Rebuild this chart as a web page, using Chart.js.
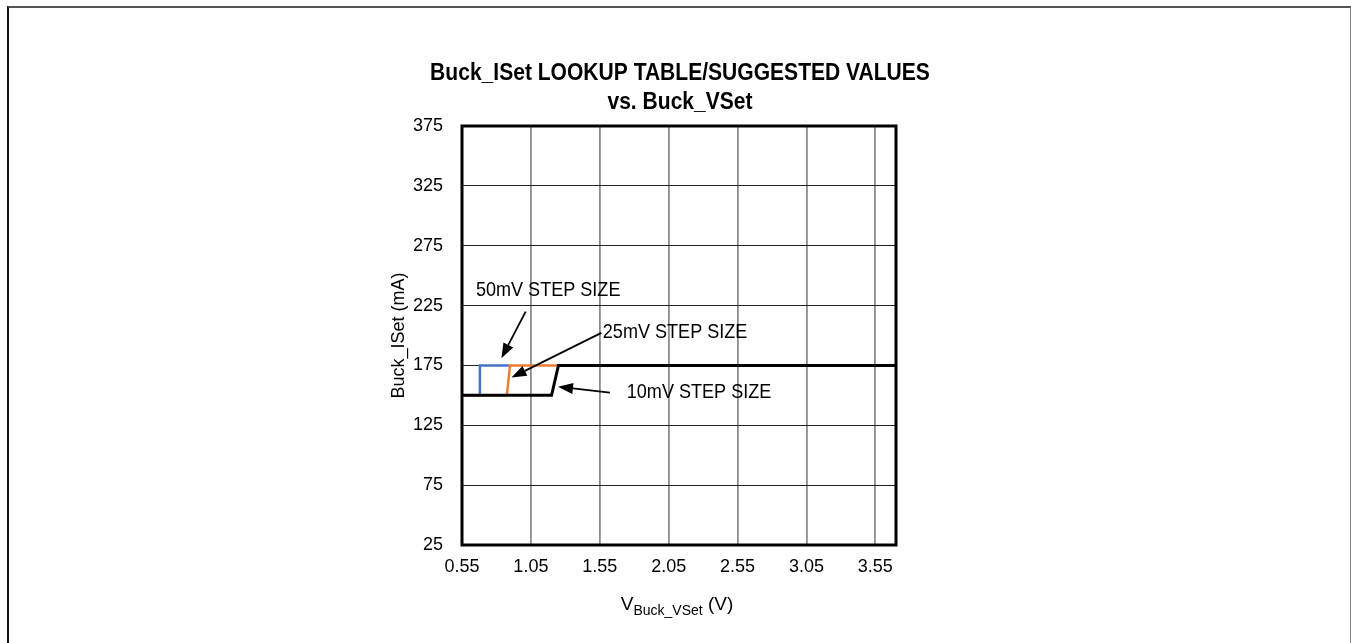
<!DOCTYPE html>
<html>
<head>
<meta charset="utf-8">
<script src="https://cdn.jsdelivr.net/npm/chart.js@4.4.1/dist/chart.umd.min.js"></script>
<style>
  html, body { margin: 0; padding: 0; background: #fff; }
  #frame {
    position: absolute; left: 7px; top: 6px; width: 1341px; height: 660px;
    border-left: 2px solid #111; border-top: 2px solid #555; border-right: 2px solid #888;
  }
  #wrap { position: absolute; left: 0; top: 0; width: 1351px; height: 643px; }
</style>
</head>
<body>
<div id="frame"></div>
<div id="wrap"><canvas id="chart" width="1351" height="643"></canvas></div>
<script>
// axis ticks
const xTicks = [0.55, 1.05, 1.55, 2.05, 2.55, 3.05, 3.55];
const yTicks = [25, 75, 125, 175, 225, 275, 325, 375];

// series (Buck_VSet V, Buck_ISet mA)
const step10mV = [{ x: 0.55, y: 150 }, { x: 1.2, y: 150 }, { x: 1.25, y: 175 }, { x: 3.7, y: 175 }];
const step25mV = [{ x: 0.55, y: 150 }, { x: 0.876, y: 150 }, { x: 0.898, y: 175 }, { x: 2.13, y: 175 }];
const step50mV = [{ x: 0.55, y: 150 }, { x: 0.68, y: 150 }, { x: 0.68, y: 175 }, { x: 0.89, y: 175 }];

const seriesNames = ["10mV STEP SIZE", "25mV STEP SIZE", "50mV STEP SIZE"];

// callouts: text anchor + arrow tail/tip, in data units
const callouts = [
  { text: "50mV STEP SIZE", tx: 0.651, ty: 238, from: [1.012, 219.9], to: [0.836, 181.0] },
  { text: "25mV STEP SIZE", tx: 1.572, ty: 202.5, from: [1.561, 202.2], to: [0.909, 164.9] },
  { text: "10mV STEP SIZE", tx: 1.746, ty: 152.4, from: [1.623, 152.2], to: [1.247, 157.2] }
];

const REG = '"Liberation Sans", Arial, sans-serif';

// no narrow font installed, so squeeze text horizontally
function squeezed(ctx, text, x, y, sx, align) {
  ctx.save();
  ctx.translate(x, y);
  ctx.scale(sx, 1);
  ctx.textAlign = align;
  ctx.fillText(text, 0, 0);
  ctx.restore();
}

const extras = {
  id: "extras",
  beforeDatasetsDraw(chart) {
    const { ctx, chartArea: a } = chart;
    ctx.save();
    ctx.strokeStyle = "#000";
    ctx.lineWidth = 3;
    ctx.strokeRect(a.left, a.top, a.right - a.left, a.bottom - a.top);
    ctx.restore();
  },
  afterDraw(chart) {
    const { ctx, chartArea: a, scales } = chart;
    const sx = scales.x, sy = scales.y;
    const cx = (a.left + a.right) / 2;
    ctx.save();

    // title
    ctx.fillStyle = "#000";
    ctx.textBaseline = "middle";
    ctx.font = "bold 24px " + REG;
    squeezed(ctx, "Buck_ISet LOOKUP TABLE/SUGGESTED VALUES", cx + 1, a.top - 53, 0.877, "center");
    squeezed(ctx, "vs. Buck_VSet", cx + 1, a.top - 24, 0.877, "center");

    // x axis title with subscript
    const big = "19px " + REG, small = "14px " + REG;
    ctx.font = big; const wV = ctx.measureText("V").width; const wEnd = ctx.measureText(" (V)").width;
    ctx.font = small; const wSub = ctx.measureText("Buck_VSet").width;
    let x0 = cx - 2 - (wV + wSub + wEnd) / 2;
    const ty = a.bottom + 58;
    ctx.textAlign = "left";
    ctx.textBaseline = "alphabetic";
    ctx.font = big; ctx.fillText("V", x0, ty + 7);
    ctx.font = small; ctx.fillText("Buck_VSet", x0 + wV, ty + 12);
    ctx.font = big; ctx.fillText(" (V)", x0 + wV + wSub, ty + 7);

    // callouts
    ctx.font = "21px " + REG;
    ctx.textBaseline = "middle";
    callouts.forEach(c => {
      ctx.fillStyle = "#000";
      squeezed(ctx, c.text, sx.getPixelForValue(c.tx), sy.getPixelForValue(c.ty), 0.86, "left");
      const x1 = sx.getPixelForValue(c.from[0]), y1 = sy.getPixelForValue(c.from[1]);
      const x2 = sx.getPixelForValue(c.to[0]), y2 = sy.getPixelForValue(c.to[1]);
      const ang = Math.atan2(y2 - y1, x2 - x1);
      const hl = 15, hw = 5.5;
      const bx = x2 - hl * Math.cos(ang), by = y2 - hl * Math.sin(ang);
      ctx.strokeStyle = "#000";
      ctx.lineWidth = 1.8;
      ctx.beginPath(); ctx.moveTo(x1, y1); ctx.lineTo(bx, by); ctx.stroke();
      ctx.beginPath();
      ctx.moveTo(x2, y2);
      ctx.lineTo(bx + hw * Math.sin(ang), by - hw * Math.cos(ang));
      ctx.lineTo(bx - hw * Math.sin(ang), by + hw * Math.cos(ang));
      ctx.closePath(); ctx.fill();
    });
    ctx.restore();
  }
};

new Chart(document.getElementById("chart"), {
  type: "line",
  data: {
    datasets: [
      { label: seriesNames[0], data: step10mV, borderColor: "#000000", borderWidth: 3 },
      { label: seriesNames[1], data: step25mV, borderColor: "#ED7D31", borderWidth: 2.5 },
      { label: seriesNames[2], data: step50mV, borderColor: "#4472C4", borderWidth: 2.5 }
    ]
  },
  options: {
    responsive: false,
    animation: false,
    events: [],
    elements: { point: { radius: 0 }, line: { tension: 0 } },
    layout: { padding: { left: 378, right: 455, top: 126, bottom: 38 } },
    plugins: { legend: { display: false }, tooltip: { enabled: false } },
    scales: {
      x: {
        type: "linear",
        min: 0.55,
        max: 3.7,
        afterBuildTicks: s => { s.ticks = xTicks.map(v => ({ value: v })); },
        afterFit: s => { s.height = 60; },
        grid: { color: "#8c8c8c", lineWidth: 1.8, drawTicks: false },
        border: { display: false },
        ticks: { color: "#000", padding: 11, font: { family: REG, size: 18 }, callback: v => v.toFixed(2) }
      },
      y: {
        min: 25,
        max: 375,
        afterBuildTicks: s => { s.ticks = yTicks.map(v => ({ value: v })); },
        afterFit: s => { s.width = 84; },
        grid: { color: "#222", lineWidth: 1, drawTicks: false },
        border: { display: false },
        ticks: { color: "#000", padding: 19, font: { family: REG, size: 18 } },
        title: { display: true, text: "Buck_ISet (mA)", color: "#000", padding: { top: 10, bottom: 0 }, font: { family: REG, size: 18 } }
      }
    }
  },
  plugins: [extras]
});
</script>
</body>
</html>
